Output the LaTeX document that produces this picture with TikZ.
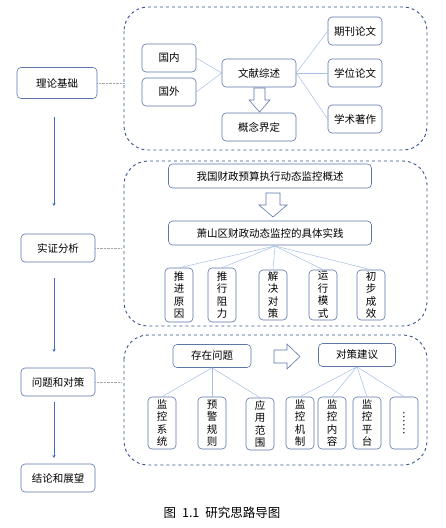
\documentclass[tikz,border=0pt]{standalone}
\usepackage{fontspec}
\setmainfont{Noto Sans CJK SC}
\usetikzlibrary{arrows.meta}

\definecolor{boxblue}{RGB}{92,118,170}
\definecolor{groupblue}{RGB}{58,84,140}
\definecolor{lineblue}{RGB}{165,190,228}
\definecolor{arrowblue}{RGB}{68,108,188}

\begin{document}
\begin{tikzpicture}[x=1pt, y=-1pt,
  box/.style={draw=boxblue, line width=0.6pt, rounded corners=4pt, fill=white,
    inner sep=0pt, font=\fontsize{10.5}{12.5}\selectfont, align=center},
  vbox/.style={box, minimum width=28pt, minimum height=52pt},
  group/.style={draw=groupblue, dashed, line width=0.9pt, rounded corners=24pt},
  link/.style={draw=lineblue, line width=0.5pt},
  flow/.style={draw=arrowblue, line width=1pt, -{Stealth[length=3pt,width=3pt]}},
  tie/.style={draw=gray!70, densely dotted, line width=0.4pt},
  hollow/.style={draw=boxblue, line width=0.6pt, fill=white, line join=miter}]

\useasboundingbox (0,0) rectangle (446,528);

% Left column
\node[box, minimum width=80pt, minimum height=31pt] (theory) at (57,83) {理论基础};
\node[box, minimum width=74pt, minimum height=28pt] (empiric) at (58,248) {实证分析};
\node[box, minimum width=74pt, minimum height=28pt] (issues) at (58,382) {问题和对策};
\node[box, minimum width=74pt, minimum height=28pt] (outlook) at (58,478) {结论和展望};

% Arrows between the steps
\coordinate (a1s) at (54,117); \coordinate (a1e) at (54,206);
\coordinate (a2s) at (54,278); \coordinate (a2e) at (54,352);
\coordinate (a3s) at (54,402); \coordinate (a3e) at (54,458);
\draw[flow] (a1s) -- (a1e);
\draw[flow] (a2s) -- (a2e);
\draw[flow] (a3s) -- (a3e);

% Group frames
\draw[group] (124,7) rectangle (427,150);
\draw[group] (124,161) rectangle (427,326);
\draw[group] (124,335) rectangle (427,465);

% Ties from steps to groups
\coordinate (g1) at (124,83);
\coordinate (g2) at (121,248);
\coordinate (g3) at (121,382);
\draw[tie] (theory.east) -- (g1);
\draw[tie] (empiric.east) -- (g2);
\draw[tie] (issues.east) -- (g3);

% Group 1: literature
\node[box, minimum width=54pt, minimum height=28pt] (home) at (169,58) {国内};
\node[box, minimum width=54pt, minimum height=28pt] (abroad) at (169,92) {国外};
\node[box, minimum width=74pt, minimum height=28pt] (review) at (259,73) {文献综述};
\node[box, minimum width=74pt, minimum height=28pt] (concept) at (259,127) {概念界定};
\node[box, minimum width=54pt, minimum height=28pt] (journal) at (355,31) {期刊论文};
\node[box, minimum width=54pt, minimum height=28pt] (thesis) at (355,73) {学位论文};
\node[box, minimum width=54pt, minimum height=28pt] (monograph) at (355,119) {学术著作};

\draw[link] (home.east) -- (review.west);
\draw[link] (abroad.east) -- (review.west);
\draw[link] (review.east) -- (journal.west);
\draw[link] (review.east) -- (thesis.west);
\draw[link] (review.east) -- (monograph.west);

% Hollow arrow down
\draw[hollow] (254,88) -- (265,88) -- (265,100) -- (270,100) -- (259.5,112)
  -- (249,100) -- (254,100) -- cycle;

% Group 2: practice
\node[box, minimum width=203pt, minimum height=24pt] (overview) at (270,176) {我国财政预算执行动态监控概述};
\node[box, minimum width=203pt, minimum height=24pt] (practice) at (270,233) {萧山区财政动态监控的具体实践};

\draw[hollow] (266,193) -- (280,193) -- (280,205) -- (287,205) -- (273,217)
  -- (259,205) -- (266,205) -- cycle;

\node[vbox, minimum height=54pt] (reason) at (179,295) {推\\进\\原\\因};
\node[vbox, minimum height=54pt] (obstacle) at (222,295) {推\\行\\阻\\力};
\node[vbox, minimum height=50pt] (measure) at (273,295) {解\\决\\对\\策};
\node[vbox, minimum height=50pt] (mode) at (323,295) {运\\行\\模\\式};
\node[vbox, minimum height=50pt] (effect) at (371,295) {初\\步\\成\\效};

\coordinate (pr) at (275,246);
\foreach \n in {reason,obstacle,measure,mode,effect}
  \draw[link] (pr) -- (\n.north);

% Group 3: problems and suggestions
\node[box, minimum width=78pt, minimum height=23pt] (problem) at (212,356) {存在问题};
\node[box, minimum width=77pt, minimum height=23pt] (advice) at (357,355) {对策建议};

\draw[hollow] (274,350) -- (287,350) -- (287,344) -- (300,356.5) -- (287,369)
  -- (287,363) -- (274,363) -- cycle;

\node[vbox] (system) at (162,423) {监\\控\\系\\统};
\node[vbox] (warning) at (212,423) {预\\警\\规\\则};
\node[vbox] (scope) at (260,424) {应\\用\\范\\围};
\node[vbox] (mechanism) at (300,423) {监\\控\\机\\制};
\node[vbox] (content) at (332,423) {监\\控\\内\\容};
\node[vbox] (platform) at (367,423) {监\\控\\平\\台};
\node[vbox] (more) at (404,423) {\rotatebox{-90}{……}};

\foreach \n in {system,warning,scope}
  \draw[link] (problem.south) -- (\n.north);
\foreach \n in {mechanism,content,platform,more}
  \draw[link] (advice.south) -- (\n.north);

% Caption
\node[font=\fontsize{12.5}{14}\selectfont] (caption) at (222,513)
  {图\hspace{6pt}1.1\hspace{6pt}研究思路导图};

\end{tikzpicture}
\end{document}
